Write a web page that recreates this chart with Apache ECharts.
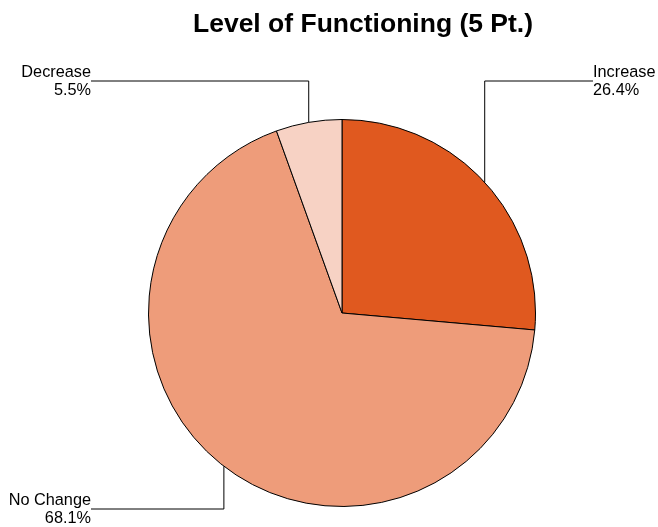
<!DOCTYPE html>
<html>
<head>
<meta charset="utf-8">
<script src="https://cdn.jsdelivr.net/npm/echarts@6/dist/echarts.min.js"></script>
<style>html,body{margin:0;padding:0;background:#fff;}#c{width:658px;height:527px;}</style>
</head>
<body>
<div id="c"></div>
<script>
var categories = ['Increase', 'No Change', 'Decrease'];
var values = [26.4, 68.1, 5.5];
var colors = ['#E0591F', '#EE9C7A', '#F7D2C4'];

var CX = 342, CY = 313, R = 193.5;
// label anchor positions (layout)
var labelPos = [
  {x: 593, y: 81, align: 'left'},
  {x: 91, y: 509, align: 'right'},
  {x: 91, y: 81, align: 'right'}
];

var chart = echarts.init(document.getElementById('c'), null, {renderer: 'canvas'});
var data = categories.map(function (c, i) {
  return {name: c, value: values[i], itemStyle: {color: colors[i]}};
});
var total = values.reduce(function (a, b) { return a + b; }, 0);

chart.setOption({
  animation: false,
  backgroundColor: '#fff',
  title: {
    text: 'Level of Functioning (5 Pt.)',
    left: 358,
    textAlign: 'center',
    top: 6,
    textStyle: {fontFamily: 'Liberation Sans', fontSize: 26.5, fontWeight: 'bold', color: '#000'}
  },
  series: [{
    type: 'pie',
    center: [CX, CY],
    radius: [0, R],
    startAngle: 90,
    clockwise: true,
    avoidLabelOverlap: false,
    data: data,
    itemStyle: {borderColor: '#000', borderWidth: 1},
    emphasis: {disabled: true},
    label: {
      show: true,
      position: 'outside',
      formatter: function (p) { return p.name + '\n' + p.value.toFixed(1) + '%'; },
      fontFamily: 'Liberation Sans',
      fontSize: 16.3,
      lineHeight: 18,
      color: '#000'
    },
    labelLine: {show: true, length: 10, length2: 10, smooth: false, lineStyle: {color: '#000', width: 1}},
    labelLayout: function (params) {
      var i = params.dataIndex;
      var lp = labelPos[i];
      var start;
      if (params.labelLinePoints && params.labelLinePoints[0]) {
        start = params.labelLinePoints[0];
      } else {
        var before = 0;
        for (var k = 0; k < i; k++) before += values[k];
        var mid = (before + values[i] / 2) / total * 2 * Math.PI;
        start = [CX + R * Math.sin(mid), CY - R * Math.cos(mid)];
      }
      return {
        x: lp.x,
        y: lp.y + 1,
        align: lp.align,
        verticalAlign: 'middle',
        labelLinePoints: [[start[0], start[1]], [start[0], lp.y], [lp.x, lp.y]]
      };
    }
  }]
});
</script>
</body>
</html>
